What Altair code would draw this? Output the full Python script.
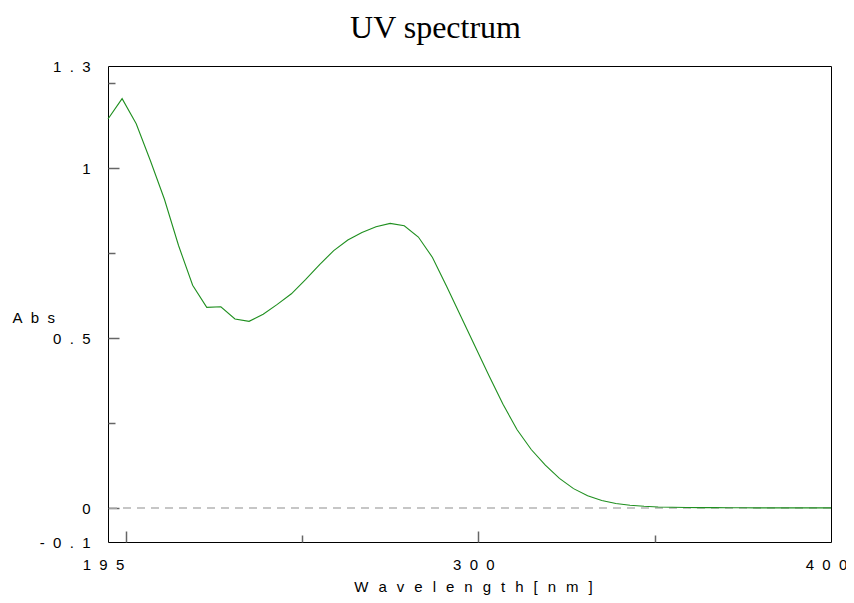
import altair as alt
import pandas as pd

# ---- data ----
wavelength = [195, 199, 203, 207, 211, 215, 219, 223, 227, 231, 235, 239, 243, 247,
              251, 255, 259, 263, 267, 271, 275, 279, 283, 287, 291, 295, 299, 303,
              307, 311, 315, 319, 323, 327, 331, 335, 339, 343, 347, 351, 355, 359,
              363, 367, 371, 375, 379, 383, 387, 391, 395, 399, 400]
absorbance = [1.144, 1.204, 1.130, 1.022, 0.908, 0.772, 0.655, 0.590, 0.592, 0.556,
              0.549, 0.570, 0.599, 0.630, 0.672, 0.716, 0.757, 0.788, 0.810, 0.827,
              0.837, 0.830, 0.797, 0.737, 0.652, 0.565, 0.477, 0.390, 0.305, 0.230,
              0.172, 0.126, 0.087, 0.057, 0.036, 0.022, 0.013, 0.008, 0.005, 0.003,
              0.002, 0.0015, 0.001, 0.001, 0.0008, 0.0006, 0.0005, 0.0004, 0.0004,
              0.0003, 0.0003, 0.0003, 0.0003]

x_label_values = [195, 300, 400]
x_label_text = ["195", "300", "400"]
x_major_ticks = [200, 300]
x_minor_ticks = [250, 350]

y_label_values = [-0.1, 0, 0.5, 1, 1.3]
y_label_text = ["-0.1", "0", "0.5", "1", "1.3"]
y_major_ticks = [0, 0.5, 1]
y_minor_ticks = [0.25, 0.75, 1.25]

baseline_level = [0.0]

title_text = "UV spectrum"
x_title = "Wavelength[nm]"
y_title = "Abs"

# ---- styling ----
SANS = "Liberation Sans"
SERIF = "Liberation Serif"
LABEL_SP = "\u2007"
TITLE_SP = "\u2002\u2006"
GREEN = "#1f8f1f"
TICK = "#666666"


def spaced(s, sp):
    return sp.join(list(s))


def label_expr(vals, texts):
    expr = "''"
    for v, t in reversed(list(zip(vals, texts))):
        expr = f"abs(datum.value - ({v})) < 1e-9 ? '{spaced(t, LABEL_SP)}' : " + expr
    return expr


df = pd.DataFrame({"wavelength": wavelength, "absorbance": absorbance})
xs = alt.Scale(domain=[195, 400], nice=False, zero=False)
ys = alt.Scale(domain=[-0.1, 1.3], nice=False, zero=False)

zero = alt.Chart(pd.DataFrame({"level": baseline_level})).mark_rule(
    color="#b4b4b4", strokeDash=[8, 6], strokeWidth=1.5
).encode(y=alt.Y("level:Q", scale=ys, axis=None))

line = alt.Chart(df).mark_line(color=GREEN, strokeWidth=1.1).encode(
    x=alt.X(
        "wavelength:Q", scale=xs,
        axis=alt.Axis(
            orient="bottom", values=x_label_values,
            labelExpr=label_expr(x_label_values, x_label_text),
            ticks=False, domain=False, grid=False, labelPadding=15, labelOffset=-5,
            labelFlush=False, labelOverlap=False, labelFont=SANS,
            labelFontSize=15, labelColor="black",
            title=spaced(x_title, TITLE_SP), titleFont=SANS, titleFontSize=15,
            titleFontWeight="normal", titleColor="black", titleX=365, titleY=49,
            titleAlign="center", titleBaseline="alphabetic",
        ),
    ),
    y=alt.Y(
        "absorbance:Q", scale=ys,
        axis=alt.Axis(
            orient="left", values=y_label_values,
            labelExpr=label_expr(y_label_values, y_label_text),
            ticks=False, domain=False, grid=False, labelPadding=18,
            labelFlush=False, labelOverlap=False, labelFont=SANS,
            labelFontSize=15, labelColor="black",
            title=spaced(y_title, LABEL_SP), titleFont=SANS, titleFontSize=15,
            titleFontWeight="normal", titleColor="black", titleAngle=0,
            titleAlign="left", titleBaseline="alphabetic", titleX=-96, titleY=256,
        ),
    ),
)


def tick_layer(xvals, yvals, size):
    return alt.Chart(df).mark_line(opacity=0).encode(
        x=alt.X("wavelength:Q", scale=xs, axis=alt.Axis(
            orient="bottom", values=xvals, labels=False, domain=False, grid=False,
            ticks=True, tickSize=size, tickColor=TICK, tickWidth=1.5,
            offset=-size, title=None)),
        y=alt.Y("absorbance:Q", scale=ys, axis=alt.Axis(
            orient="left", values=yvals, labels=False, domain=False, grid=False,
            ticks=True, tickSize=size, tickColor=TICK, tickWidth=1.5,
            offset=-size, title=None)),
    )


major = tick_layer(x_major_ticks, y_major_ticks, 11)
minor = tick_layer(x_minor_ticks, y_minor_ticks, 7)

chart = (
    alt.layer(zero, line, major, minor)
    .resolve_scale(x="shared", y="shared")
    .resolve_axis(x="independent", y="independent")
    .properties(
        width=723, height=476,
        title=alt.TitleParams(
            title_text, font=SERIF, fontSize=32, fontWeight="normal",
            color="black", anchor="middle", frame="group",
            baseline="alphabetic", offset=1, dx=-34, dy=12,
        ),
        autosize=alt.AutoSizeParams(type="none"),
        padding={"left": 100, "top": 58, "right": 15, "bottom": 53},
    )
    .configure_view(stroke="black", strokeWidth=1)
)

chart.save("out.html", embed_options={"renderer": "svg", "actions": False})
